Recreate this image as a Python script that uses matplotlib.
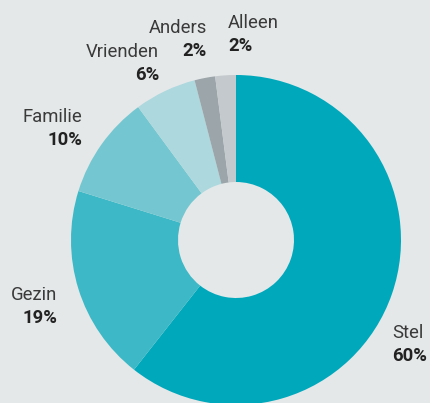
import matplotlib.pyplot as plt
import numpy as np

categories = ['Stel', 'Gezin', 'Familie', 'Vrienden', 'Anders', 'Alleen']
shares = [60, 19, 10, 6, 2, 2]
colors = ['#00a8bc', '#3cb8c6', '#74c7d0', '#acd8de', '#9ca6aa', '#c3c9cc']

# label anchors in pixels (x, baseline of name) and alignment
label_pos = {'Stel': (392, 338, 'left'), 'Gezin': (57, 300, 'right'),
             'Familie': (82, 122, 'right'), 'Vrienden': (159, 57, 'right'),
             'Anders': (207, 33, 'right'), 'Alleen': (228, 28, 'left')}

bg = '#e4e8e9'
W, H = 430, 403
cx, cy, r = 236, 240, 165  # pie centre / radius in pixels


def px(x, y):
    return (x - cx) / r, (cy - y) / r


fig = plt.figure(figsize=(W / 100, H / 100), dpi=100, facecolor=bg)
ax = fig.add_axes([0, 0, 1, 1])
ax.set_facecolor(bg)
ax.pie(shares, colors=colors, startangle=90, counterclock=False, radius=1,
       wedgeprops=dict(width=1 - 58 / r, linewidth=0))
ax.set_xlim(-cx / r, (W - cx) / r)
ax.set_ylim(-(H - cy) / r, cy / r)
ax.set_aspect('equal')
ax.axis('off')

for name, val in zip(categories, shares):
    x, y, ha = label_pos[name]
    ax.text(*px(x, y), name, ha=ha, va='baseline', fontsize=13.3,
            family='Roboto', fontweight='normal', color='#3a3a3a')
    ax.text(*px(x, y + 23), f'{val}%', ha=ha, va='baseline', fontsize=13.3,
            family='Roboto', fontweight='bold', color='#222222')

fig.savefig('out.png', dpi=100, facecolor=bg)
